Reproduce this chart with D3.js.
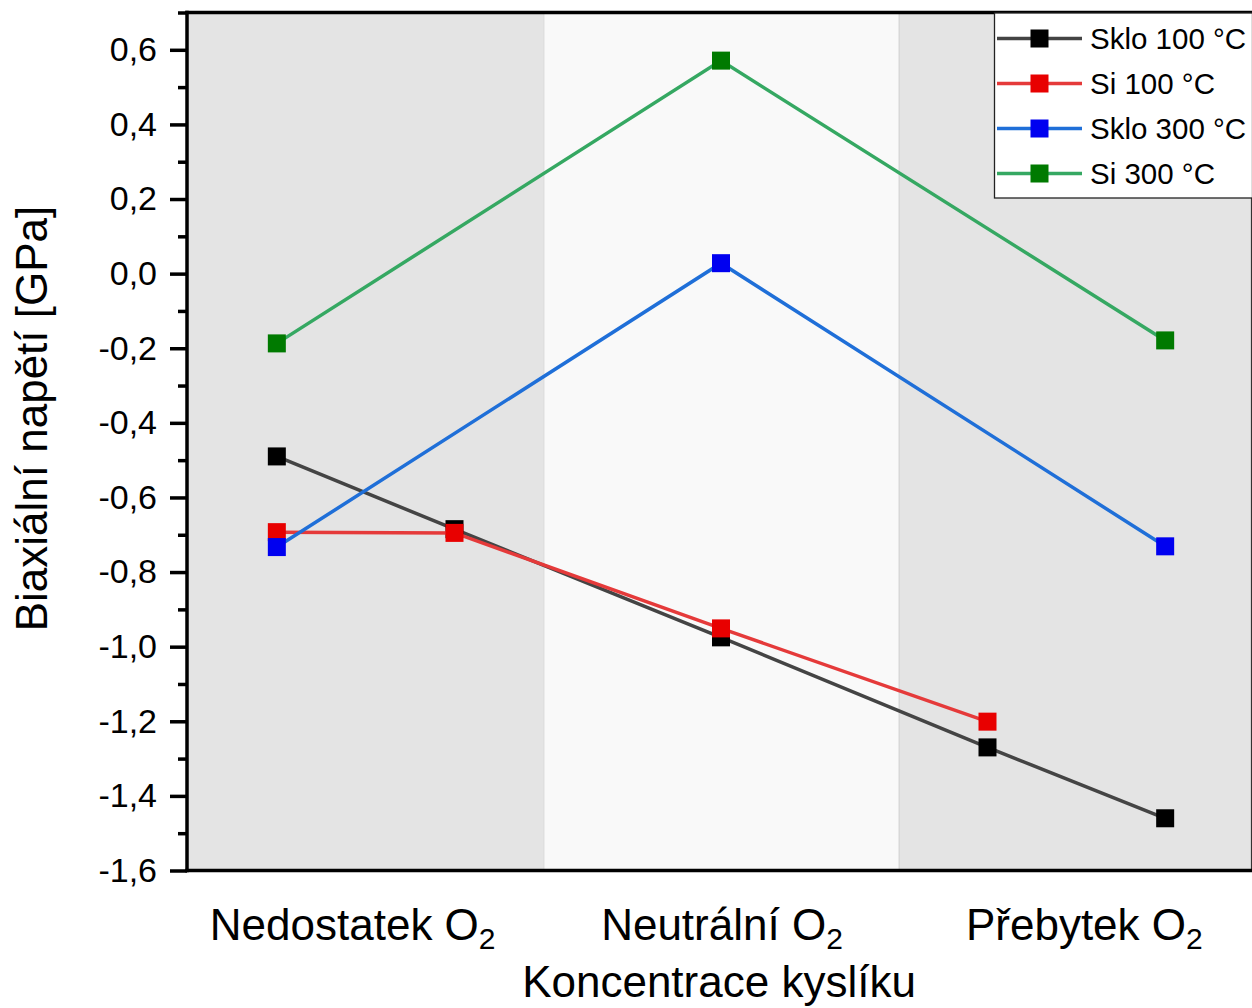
<!DOCTYPE html>
<html>
<head>
<meta charset="utf-8">
<script src="https://cdn.jsdelivr.net/npm/d3@7"></script>
<style>
  body { margin: 0; background: #fff; }
  svg { display: block; }
  text { font-family: "Liberation Sans", Arial, sans-serif; fill: #000; }
</style>
</head>
<body>
<svg id="chart" width="1252" height="1008"></svg>
<script>
// Oxygen-concentration groups (each label is followed by "O" with subscript 2)
const categories = ["Nedostatek", "Neutrální", "Přebytek"];

// Sample positions along the concentration axis
const xPositions = [1, 3, 6, 9, 11];

// Biaxial stress [GPa]; null = not measured at that position
const sklo100 = [-0.49, -0.685, -0.975, -1.27, -1.46];
const si100   = [-0.693, -0.695, -0.951, -1.201, null];
const sklo300 = [-0.733, null, 0.028, null, -0.731];
const si300   = [-0.187, null, 0.571, null, -0.179];

const seriesNames = ["Sklo 100 °C", "Si 100 °C", "Sklo 300 °C", "Si 300 °C"];

const yMajorTicks = [-1.6, -1.4, -1.2, -1.0, -0.8, -0.6, -0.4, -0.2, 0.0, 0.2, 0.4, 0.6];
const yMinorTicks = [-1.5, -1.3, -1.1, -0.9, -0.7, -0.5, -0.3, -0.1, 0.1, 0.3, 0.5, 0.7];

const svg = d3.select("#chart");

const plotLeft = 187, plotRight = 1254, plotTop = 12.5, plotBottom = 870.5;
const x = d3.scaleLinear().domain([0, 12]).range([plotLeft + 1, plotRight]);
const y = d3.scaleLinear().domain([-1.6, 0.7]).range([plotBottom, plotTop]);

const czech = d3.formatLocale({ decimal: ",", thousands: " ", grouping: [3], currency: ["", ""], minus: "-" });
const fmt = czech.format(".1f");

// Background bands, one per concentration group
const bandFill = ["#e4e4e4", "#f9f9f9", "#e4e4e4"];
const bandWidth = 12 / categories.length;
svg.append("g").selectAll("rect")
  .data(categories)
  .join("rect")
  .attr("x", (d, i) => x(i * bandWidth))
  .attr("y", plotTop)
  .attr("width", (d, i) => x((i + 1) * bandWidth) - x(i * bandWidth))
  .attr("height", plotBottom - plotTop)
  .attr("fill", (d, i) => bandFill[i]);

svg.append("g").selectAll("line")
  .data(categories.slice(1))
  .join("line")
  .attr("x1", (d, i) => x((i + 1) * bandWidth) + 0.5)
  .attr("x2", (d, i) => x((i + 1) * bandWidth) + 0.5)
  .attr("y1", plotTop)
  .attr("y2", plotBottom)
  .attr("stroke", "#d2d2d2")
  .attr("stroke-width", 1);

// Data series
const series = [
  { name: seriesNames[0], values: sklo100, line: "#444444", marker: "#000000" },
  { name: seriesNames[1], values: si100,   line: "#e53a3a", marker: "#e80000" },
  { name: seriesNames[2], values: sklo300, line: "#1f6fd8", marker: "#0000f0" },
  { name: seriesNames[3], values: si300,   line: "#35a862", marker: "#007a00" }
];

const lineGen = d3.line().x(d => x(d[0])).y(d => y(d[1]));
const markerSize = 18;

series.forEach(s => {
  const pts = xPositions.map((xv, i) => [xv, s.values[i]]).filter(p => p[1] !== null);
  const g = svg.append("g");
  g.append("path")
    .attr("d", lineGen(pts))
    .attr("fill", "none")
    .attr("stroke", s.line)
    .attr("stroke-width", 3.5);
  g.selectAll("rect")
    .data(pts)
    .join("rect")
    .attr("x", d => x(d[0]) - markerSize / 2)
    .attr("y", d => y(d[1]) - markerSize / 2)
    .attr("width", markerSize)
    .attr("height", markerSize)
    .attr("fill", s.marker);
});

// Frame: thin right border, heavy top/bottom/left
svg.append("line")
  .attr("x1", 1251.5).attr("x2", 1251.5).attr("y1", plotTop).attr("y2", plotBottom)
  .attr("stroke", "#333").attr("stroke-width", 1.2);
svg.append("line")
  .attr("x1", plotLeft - 1.75).attr("x2", 1252).attr("y1", plotTop).attr("y2", plotTop)
  .attr("stroke", "#000").attr("stroke-width", 3.5);
svg.append("line")
  .attr("x1", plotLeft - 1.75).attr("x2", 1252).attr("y1", plotBottom).attr("y2", plotBottom)
  .attr("stroke", "#000").attr("stroke-width", 3.5);

// Y axis
const yAxis = d3.axisLeft(y)
  .tickValues(yMajorTicks)
  .tickSize(17)
  .tickPadding(13)
  .tickFormat(fmt);
const ya = svg.append("g").attr("transform", `translate(${plotLeft},0)`).call(yAxis);
ya.select(".domain").remove();
ya.selectAll(".tick line").attr("stroke", "#000").attr("stroke-width", 3.5);
ya.selectAll(".tick text")
  .attr("font-size", 34)
  .attr("font-family", "'Liberation Sans', Arial, sans-serif")
  .attr("fill", "#000");

const yMinor = d3.axisLeft(y).tickValues(yMinorTicks).tickSize(9).tickFormat("");
const ym = svg.append("g").attr("transform", `translate(${plotLeft},0)`).call(yMinor);
ym.select(".domain").remove();
ym.selectAll(".tick line").attr("stroke", "#000").attr("stroke-width", 3.5);

svg.append("line")
  .attr("x1", plotLeft).attr("x2", plotLeft).attr("y1", plotTop - 1.75).attr("y2", plotBottom + 1.75)
  .attr("stroke", "#000").attr("stroke-width", 3.5);

// Category labels under the x axis (small horizontal nudges for the outer groups)
const labelNudge = [-13, 1, 8];
const catLabels = svg.append("g").selectAll("text")
  .data(categories)
  .join("text")
  .attr("x", (d, i) => x(i * bandWidth + bandWidth / 2) + labelNudge[i])
  .attr("y", 940)
  .attr("text-anchor", "middle")
  .attr("font-size", 44);
catLabels.append("tspan").text(d => d + " O");
catLabels.append("tspan").attr("font-size", 30).attr("dy", 9).text("2");

// Axis titles
svg.append("text")
  .attr("x", (plotLeft + 1251) / 2)
  .attr("y", 997)
  .attr("text-anchor", "middle")
  .attr("font-size", 44)
  .text("Koncentrace kyslíku");

svg.append("text")
  .attr("transform", `translate(47,${(205 + 632) / 2}) rotate(-90)`)
  .attr("text-anchor", "middle")
  .attr("font-size", 44)
  .text("Biaxiální napětí [GPa]");

// Legend
const legend = svg.append("g");
legend.append("rect")
  .attr("x", 994.5).attr("y", 13)
  .attr("width", 258).attr("height", 185)
  .attr("fill", "#fff").attr("stroke", "#222").attr("stroke-width", 1.3);

const legendRows = legend.selectAll("g.row")
  .data(series)
  .join("g")
  .attr("class", "row")
  .attr("transform", (d, i) => `translate(0,${38.5 + i * 45})`);
legendRows.append("line")
  .attr("x1", 997).attr("x2", 1082).attr("y1", 0).attr("y2", 0)
  .attr("stroke", d => d.line).attr("stroke-width", 3.5);
legendRows.append("rect")
  .attr("x", 1039.5 - markerSize / 2).attr("y", -markerSize / 2)
  .attr("width", markerSize).attr("height", markerSize)
  .attr("fill", d => d.marker);
legendRows.append("text")
  .attr("x", 1090).attr("y", 0).attr("dy", "0.36em")
  .attr("font-size", 29.5)
  .text(d => d.name);
</script>
</body>
</html>
